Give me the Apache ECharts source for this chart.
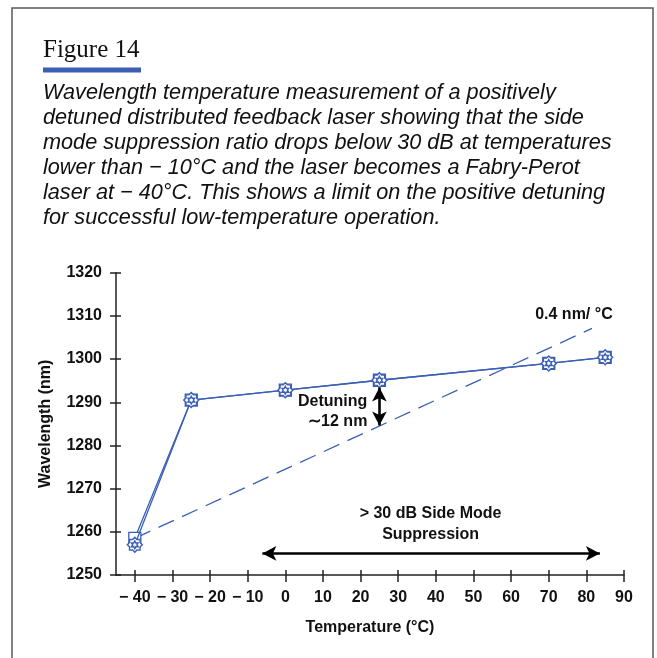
<!DOCTYPE html>
<html>
<head>
<meta charset="utf-8">
<script src="https://cdn.jsdelivr.net/npm/echarts@6/dist/echarts.min.js"></script>
<style>
  html, body { margin: 0; padding: 0; background: #fff; }
  #chart { width: 657px; height: 658px; }
</style>
</head>
<body>
<div id="chart"></div>
<script>
// Temperature (°C) and wavelength (nm) measurements
const tempTicks = [-40, -30, -20, -10, 0, 10, 20, 30, 40, 50, 60, 70, 80, 90];
const wavelengthTicks = [1250, 1260, 1270, 1280, 1290, 1300, 1310, 1320];

const measTemp = [-40, -25, 0, 25, 70, 85];
const squareWavelength = [1258.5, 1290.5, 1292.8, 1295.1, 1299.0, 1300.4];
const starWavelength = [1257.0, 1290.5, 1292.8, 1295.1, 1299.0, 1300.4];

// Reference slope line, 0.4 nm per °C
const slopeTemp = [-40, 81.5];
const slopeWavelength = [1258.5, 1307.1];

// Detuning arrow at 25 °C, and the side-mode suppression range
const detuningTemp = 25;
const detuningRange = [1293.4, 1284.6];
const suppressionRange = [-6.1, 83.6];
const suppressionLevel = 1255;

const captionLines = [
  'Wavelength temperature measurement of a positively',
  'detuned distributed feedback laser showing that the side',
  'mode suppression ratio drops below 30 dB at temperatures',
  'lower than \u2212 10\u00b0C and the laser becomes a Fabry-Perot',
  'laser at \u2212 40\u00b0C. This shows a limit on the positive detuning',
  'for successful low-temperature operation.'
];

const SANS = "'Liberation Sans', Arial, sans-serif";
const BLUE = '#3a5fb4';
const INK = '#111';

const octagram = 'path://M100 50 L85.1 64.6 L85.4 85.4 L64.6 85.1 L50 100 L35.4 85.1 L14.6 85.4 L14.9 64.6 L0 50 L14.9 35.4 L14.6 14.6 L35.4 14.9 L50 0 L64.6 14.9 L85.4 14.6 L85.1 35.4 Z ' +
  'M50 24 L57 38 L72.5 37 L64 50 L72.5 63 L57 62 L50 76 L43 62 L27.5 63 L36 50 L27.5 37 L43 38 Z';

const pairs = (xs, ys) => xs.map((x, i) => [x, ys[i]]);

const chart = echarts.init(document.getElementById('chart'), null, { renderer: 'canvas' });

const tickLabel = v => (v < 0 ? '\u2212 ' + Math.abs(v) : String(v));

const graphic = [
  { type: 'rect', shape: { x: 12, y: 8, width: 641, height: 680 },
    style: { fill: 'none', stroke: '#5a5a5a', lineWidth: 1.5 }, silent: true },
  { type: 'text', x: 43, y: 50,
    style: { text: 'Figure 14', font: "25px 'Liberation Serif', serif", fill: INK, verticalAlign: 'middle' } },
  { type: 'rect', shape: { x: 43, y: 67.5, width: 98, height: 5 }, style: { fill: BLUE } }
];
const captionTop = 93, captionStep = 24.9;
captionLines.forEach((line, i) => {
  graphic.push({ type: 'text', x: 43, y: captionTop + i * captionStep, scaleX: 0.985, originX: 0,
    style: { text: line, font: "italic 22px " + SANS, fill: INK, verticalAlign: 'middle' } });
});

const option = {
  animation: false,
  backgroundColor: '#fff',
  grid: { left: 116, right: 33, top: 272.7, bottom: 83, containLabel: false },
  xAxis: [
    {
      type: 'value', min: -45, max: 90,
      name: 'Temperature (\u00b0C)', nameLocation: 'middle', nameGap: 45,
      nameTextStyle: { fontFamily: SANS, fontWeight: 'bold', fontSize: 16, color: INK },
      axisLine: { onZero: false, lineStyle: { color: '#222', width: 1.5 } },
      axisTick: { show: false },
      splitLine: { show: false },
      axisLabel: { customValues: tempTicks, formatter: tickLabel, margin: 15,
        fontFamily: SANS, fontWeight: 'bold', fontSize: 16, color: INK }
    },
    {
      type: 'value', min: -45, max: 90, position: 'bottom', offset: -5,
      axisLine: { show: false, onZero: false },
      axisTick: { customValues: tempTicks, length: 12, lineStyle: { color: '#222', width: 1.5 } },
      axisLabel: { show: false }, splitLine: { show: false }
    }
  ],
  yAxis: [
    {
      type: 'value', min: 1250, max: 1320, interval: 10,
      name: 'Wavelength (nm)', nameLocation: 'middle', nameGap: 62, nameRotate: 90,
      nameTextStyle: { fontFamily: SANS, fontWeight: 'bold', fontSize: 16, color: INK },
      axisLine: { show: true, onZero: false, lineStyle: { color: '#222', width: 1.5 } },
      axisTick: { show: false },
      splitLine: { show: false },
      axisLabel: { customValues: wavelengthTicks, formatter: v => String(v), margin: 14,
        fontFamily: SANS, fontWeight: 'bold', fontSize: 16, color: INK }
    },
    {
      type: 'value', min: 1250, max: 1320, interval: 10, position: 'left', offset: -5,
      axisLine: { show: false, onZero: false },
      axisTick: { show: true, length: 11, lineStyle: { color: '#222', width: 1.5 } },
      axisLabel: { show: false }, splitLine: { show: false }
    }
  ],
  graphic: graphic,
  series: [
    {
      type: 'line', name: 'slope', data: pairs(slopeTemp, slopeWavelength),
      showSymbol: false, symbol: 'none',
      lineStyle: { color: BLUE, width: 1.3, type: [17, 9] }, z: 2,
      markLine: {
        silent: true, symbol: ['arrow', 'arrow'], symbolSize: [11, 14],
        lineStyle: { color: '#000', width: 2.6, type: 'solid' },
        label: { show: false },
        data: [
          [{ coord: [detuningTemp, detuningRange[0]] }, { coord: [detuningTemp, detuningRange[1]] }],
          [{ coord: [suppressionRange[0], suppressionLevel] }, { coord: [suppressionRange[1], suppressionLevel] }]
        ]
      }
    },
    {
      type: 'line', name: 'square', data: pairs(measTemp, squareWavelength),
      symbol: 'rect', symbolSize: 12,
      itemStyle: { color: '#fff', borderColor: BLUE, borderWidth: 1.3 },
      lineStyle: { color: BLUE, width: 1.3 }, z: 3
    },
    {
      type: 'line', name: 'star', data: pairs(measTemp, starWavelength),
      symbol: octagram, symbolSize: 15,
      itemStyle: { color: '#fff', borderColor: BLUE, borderWidth: 1.4 },
      lineStyle: { color: BLUE, width: 1.3 }, z: 4
    },
    {
      type: 'scatter', name: 'notes', symbolSize: 0, silent: true, z: 5,
      itemStyle: { opacity: 1, color: 'rgba(0,0,0,0)' },
      data: [
        { value: [76.7, 1310.3], label: { formatter: '0.4 nm/ \u00b0C', align: 'center' } },
        { value: [21.8, 1287.8], label: { formatter: 'Detuning\n\u223c12 nm', align: 'right', lineHeight: 20 } },
        { value: [38.6, 1261.7], label: { formatter: '> 30 dB Side Mode\nSuppression', align: 'center', lineHeight: 21 } }
      ],
      label: { show: true, position: 'inside', opacity: 1, fontFamily: SANS, fontWeight: 'bold', fontSize: 16, color: INK }
    }
  ]
};

chart.setOption(option);
</script>
</body>
</html>
